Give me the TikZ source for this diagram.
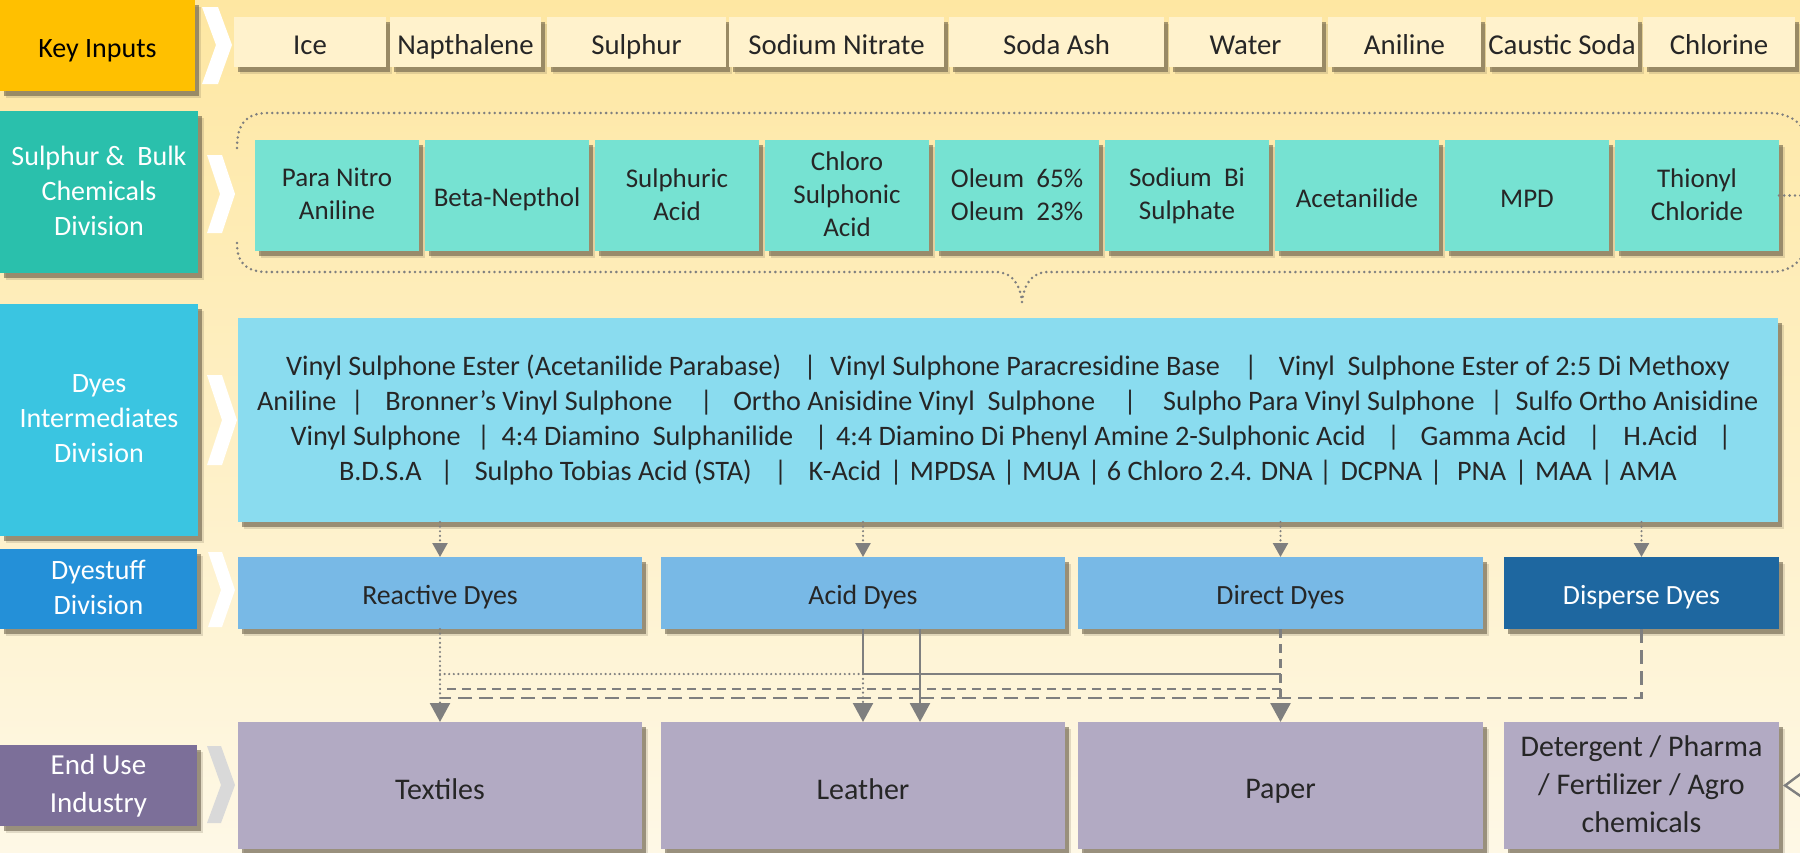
\documentclass[tikz,border=0pt]{standalone}
\usepackage{fontspec}
\setmainfont{Carlito}
\usetikzlibrary{arrows.meta,shadows,calc}
\definecolor{bgtop}{HTML}{FEE7A2}
\definecolor{bgmid}{HTML}{FEF1CA}
\definecolor{bgbot}{HTML}{FEF8E6}
\definecolor{keyc}{HTML}{FFC000}
\definecolor{inc}{HTML}{FFF2CC}
\definecolor{sbc}{HTML}{2AC0AC}
\definecolor{tealc}{HTML}{76E2D2}
\definecolor{dic}{HTML}{3AC5E1}
\definecolor{bigc}{HTML}{8ADCEF}
\definecolor{dsc}{HTML}{2490D8}
\definecolor{dyec}{HTML}{78B9E6}
\definecolor{dispc}{HTML}{1E67A0}
\definecolor{euc}{HTML}{7C6F99}
\definecolor{endc}{HTML}{B2AAC3}
\definecolor{linec}{HTML}{7F7F7F}
\definecolor{shc}{HTML}{5E5440}
\definecolor{txtc}{HTML}{262626}
\definecolor{chevg}{HTML}{D9D9D9}
\newcommand\pp[2]{\hspace{#1pt}\makebox[0pt]{|}\hspace{#2pt}}
\newcommand\mystrut{\rule[-0.1em]{0pt}{1.1em}}
\begin{document}
\begin{tikzpicture}[x=1pt,y=-1pt,
  sh/.style={general shadow={shadow xshift=6pt,shadow yshift=-7pt,fill=shc,opacity=0.18},
             general shadow={shadow xshift=3.5pt,shadow yshift=-4.5pt,fill=shc,opacity=0.55}},
  box/.style={sh, inner sep=0pt, outer sep=0pt, align=center, anchor=north west, text=txtc,
              execute at begin node=\mystrut, execute at end node=\mystrut},
  lab/.style={box, text=white, font=\fontsize{28pt}{35pt}\selectfont},
  inbox/.style={box, fill=inc, minimum height=50pt, font=\fontsize{28.8pt}{34pt}\selectfont},
  chem/.style={box, fill=tealc, minimum width=164pt, minimum height=111pt, font=\fontsize{27pt}{33pt}\selectfont},
  dye/.style={box, fill=dyec, minimum height=72pt, font=\fontsize{27.8pt}{33pt}\selectfont},
  enduse/.style={box, fill=endc, minimum height=127pt, font=\fontsize{30pt}{38pt}\selectfont},
  conn/.style={draw=linec, line width=2.6pt},
  dotl/.style={conn, line width=2.4pt, line cap=round, dash pattern=on 0pt off 4.6pt},
  brk/.style={draw=linec, line width=2.8pt, line cap=round, dash pattern=on 0pt off 5.3pt},
  sdash/.style={conn, dash pattern=on 9pt off 6pt},
  mdash/.style={conn, dash pattern=on 9pt off 6pt},
  ldash/.style={conn, dash pattern=on 14pt off 7pt},
  tip/.style={-{Triangle[length=19pt,width=20pt]}},
  stip/.style={-{Triangle[length=14pt,width=15pt]}}
]
\useasboundingbox (0,0) rectangle (1800,852);
\shade[top color=bgtop, middle color=bgmid, bottom color=bgbot] (0,0) rectangle (1800,852);

% chevrons
\fill[white] (202,7) -- (218,7) -- (232,45) -- (218,84) -- (202,84) -- (216,45) -- cycle;
\fill[white] (207,155) -- (222,155) -- (235,194) -- (222,233) -- (207,233) -- (220,194) -- cycle;
\fill[white] (207,375) -- (222,375) -- (237,420) -- (222,465) -- (207,465) -- (222,420) -- cycle;
\fill[white] (208,552) -- (222,552) -- (235,590) -- (222,627) -- (208,627) -- (221,590) -- cycle;
\fill[chevg] (207,746) -- (221,746) -- (235,785) -- (221,823) -- (207,823) -- (221,785) -- cycle;

% bracket
\draw[brk] (237,148) .. controls (237,124) and (246,113) .. (268,113) -- (1768,113) .. controls (1790,113) and (1800,122) .. (1806,134);
\draw[brk] (237,243) .. controls (237,263) and (246,272) .. (268,272) -- (996,272) .. controls (1012,272) and (1020,284) .. (1022,302);
\draw[brk] (1022,302) .. controls (1024,284) and (1032,272) .. (1048,272) -- (1770,272) .. controls (1790,272) and (1800,262) .. (1806,250);

% labels
\node[lab, fill=keyc, text=black, minimum width=195pt, minimum height=91pt] (ki) at (0,0) {Key Inputs};
\node[lab, fill=sbc, minimum width=198pt, minimum height=162pt] (sb) at (0,111) {Sulphur \&\ \ Bulk\\Chemicals\\Division};
\node[lab, fill=dic, minimum width=198pt, minimum height=232pt] (di) at (0,304) {Dyes\\Intermediates\\Division};
\node[lab, fill=dsc, minimum width=197pt, minimum height=80pt] (ds) at (0,549) {Dyestuff\\Division};
\node[lab, fill=euc, minimum width=197pt, minimum height=81pt, font=\fontsize{29pt}{38pt}\selectfont] (eu) at (0,745) {End Use\\Industry};

% key inputs
\node[inbox, minimum width=152pt] (i1) at (234,17) {Ice};
\node[inbox, minimum width=151pt] (i2) at (390,17) {Napthalene};
\node[inbox, minimum width=179pt] (i3) at (547,17) {Sulphur};
\node[inbox, minimum width=215pt] (i4) at (729,17) {Sodium Nitrate};
\node[inbox, minimum width=215pt] (i5) at (949,17) {Soda Ash};
\node[inbox, minimum width=153pt] (i6) at (1169,17) {Water};
\node[inbox, minimum width=153pt] (i7) at (1328,17) {Aniline};
\node[inbox, minimum width=152pt] (i8) at (1486,17) {Caustic Soda};
\node[inbox, minimum width=152pt] (i9) at (1643,17) {Chlorine};

% bulk chemicals
\node[chem] (c1) at (255,140) {Para Nitro\\Aniline};
\node[chem] (c2) at (425,140) {Beta-Nepthol};
\node[chem] (c3) at (595,140) {Sulphuric\\Acid};
\node[chem] (c4) at (765,140) {Chloro\\Sulphonic\\Acid};
\node[chem] (c5) at (935,140) {Oleum\ \ 65\%\\Oleum\ \ 23\%};
\node[chem] (c6) at (1105,140) {Sodium\ \ Bi\\Sulphate};
\node[chem] (c7) at (1275,140) {Acetanilide};
\node[chem] (c8) at (1445,140) {MPD};
\node[chem] (c9) at (1615,140) {Thionyl\\Chloride};
\draw[brk] (c9.east) -- ++(30,0);

% intermediates
\node[box, fill=bigc, minimum width=1540pt, minimum height=204pt, font=\fontsize{28.2pt}{35pt}\selectfont] (big) at (238,318) {Vinyl Sulphone Ester (Acetanilide Parabase)\pp{29}{20}Vinyl Sulphone Paracresidine Base\pp{31}{28}Vinyl\ \ Sulphone Ester of 2:5 Di Methoxy\\
Aniline\pp{21}{28}Bronner’s Vinyl Sulphone\pp{34}{27}Ortho Anisidine Vinyl\ \ Sulphone\pp{35}{33}Sulpho Para Vinyl Sulphone\pp{22}{19}Sulfo Ortho Anisidine\\
Vinyl Sulphone\pp{23}{18}4:4 Diamino\ \ Sulphanilide\pp{28}{15}4:4 Diamino Di Phenyl Amine 2-Sulphonic Acid\pp{28}{27}Gamma Acid\pp{28}{29}H.Acid\pp{27}{0}\\
B.D.S.A\pp{25}{28}Sulpho Tobias Acid (STA)\pp{29}{28}K-Acid\pp{15}{14}MPDSA\pp{14}{13}MUA\pp{14}{13}6 Chloro 2.4. DNA\pp{13}{15}DCPNA\pp{14}{21}PNA\pp{15}{14}MAA\pp{15}{13}AMA};

% dyes
\node[dye, minimum width=404pt] (react) at (238,557) {Reactive Dyes};
\node[dye, minimum width=404pt] (acid) at (661,557) {Acid Dyes};
\node[dye, minimum width=405pt] (direct) at (1078,557) {Direct Dyes};
\node[dye, fill=dispc, text=white, minimum width=275pt] (disp) at (1504,557) {Disperse Dyes};

% end use
\node[enduse, minimum width=404pt] (tex) at (238,722) {Textiles};
\node[enduse, minimum width=404pt] (lea) at (661,722) {Leather};
\node[enduse, minimum width=405pt] (pap) at (1078,722) {Paper};
\node[enduse, minimum width=275pt] (det) at (1504,722) {Detergent / Pharma\\/ Fertilizer / Agro\\chemicals};

% connectors top
\foreach \n in {react,acid,direct,disp}
  \draw[dotl, stip] (big.south -| \n.north) -- (\n.north);

% connectors bottom
\coordinate (yA) at (0,674);
\coordinate (yB) at (0,689);
\coordinate (yC) at (0,698);
\draw[ldash] (disp.south) -- (disp.south |- yC) -- (tex.north |- yC);
\draw[sdash] (direct.south |- yB) -- (react.south |- yB);
\draw[conn] (acid.south) -- (acid.south |- yA) -- (direct.south |- yA);
\draw[conn, tip] ([xshift=57pt]acid.south) -- ([xshift=57pt]lea.north);
\draw[mdash, tip] (direct.south) -- (pap.north);
\draw[dotl, tip] (react.south) -- (tex.north);
\draw[dotl, tip] (react.south |- yA) -- (acid.south |- yA) -- (lea.north);
\coordinate (rgt) at (1810,785);
\draw[dotl, -{Triangle[open,length=20pt,width=28pt,line width=2.4pt]}] (rgt) -- ([xshift=4pt]det.east);
\end{tikzpicture}
\end{document}
